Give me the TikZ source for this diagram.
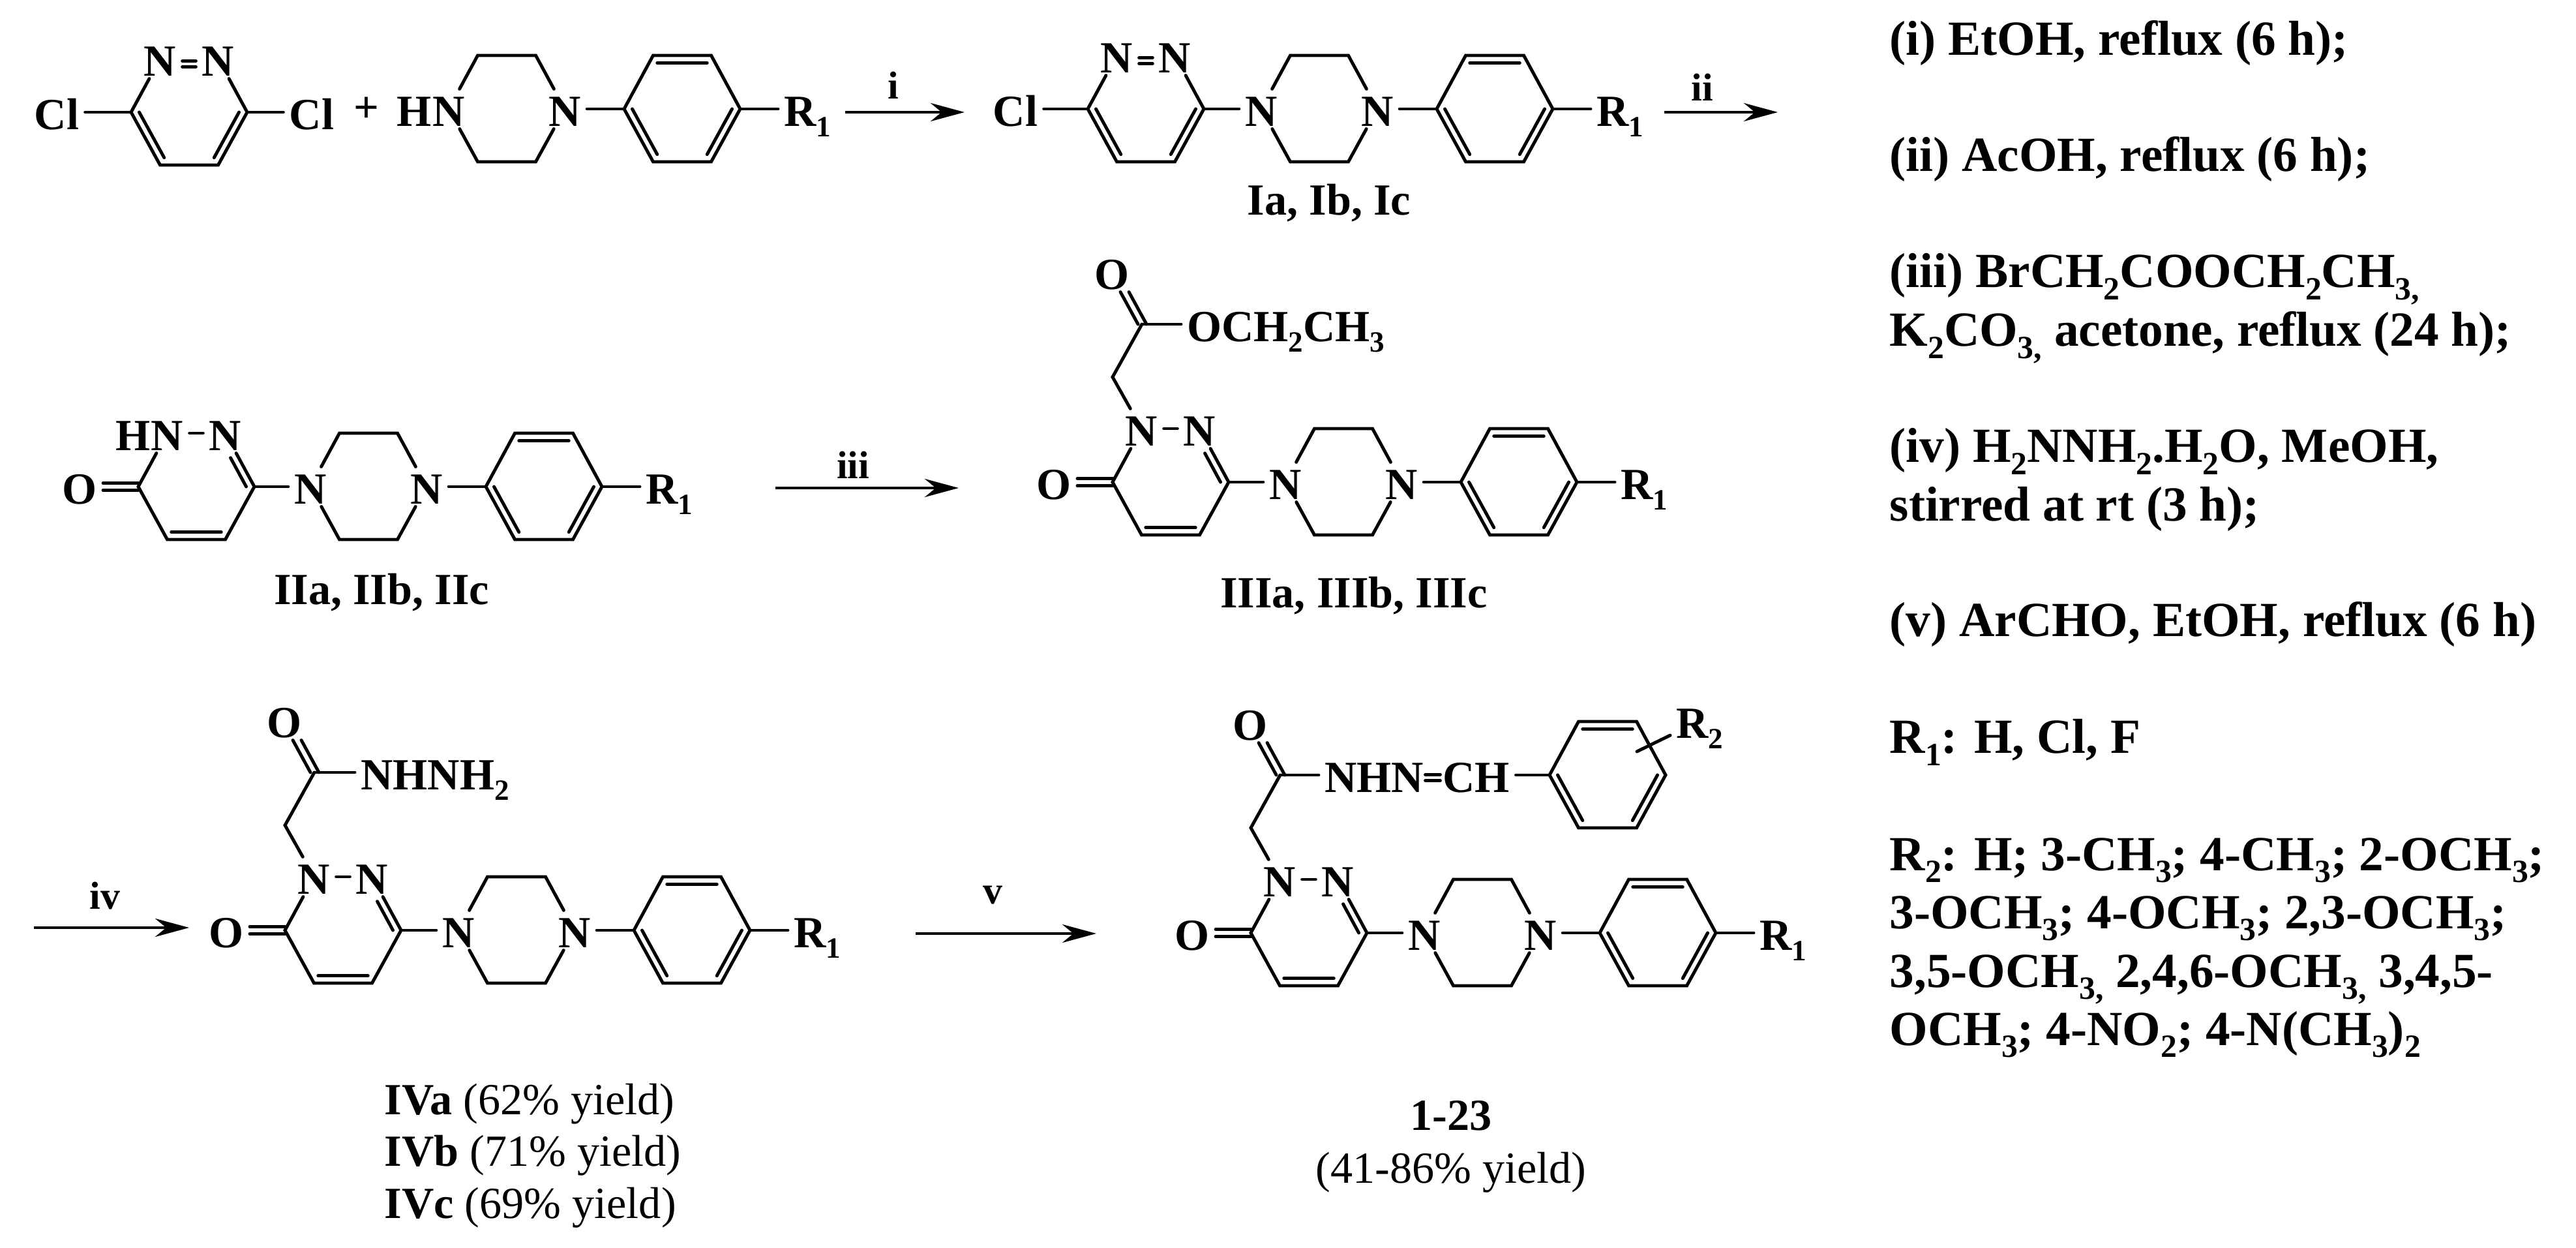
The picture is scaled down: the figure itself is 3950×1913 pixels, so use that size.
\documentclass[tikz,border=0pt]{standalone}
\usepackage{fontspec}
\setmainfont{Liberation Serif}
\usepackage{tikz}
\usetikzlibrary{positioning}
\usetikzlibrary{calc}
\usetikzlibrary{arrows.meta}
\tikzset{
    atom/.style={font=\fontsize{19.4}{22}\selectfont\bfseries, inner xsep=2.5pt, inner ysep=0pt, text height=15.9pt, text depth=1.1pt},
    lab/.style={font=\fontsize{19.4}{22}\selectfont, inner sep=0pt, anchor=base},
    rlab/.style={font=\fontsize{17}{20}\selectfont\bfseries, inner sep=0pt, anchor=base},
    note/.style={font=\fontsize{21.4}{25}\selectfont\bfseries, inner sep=0pt, anchor=base west},
    bond/.style={line width=1.4pt, line cap=round},
    rxn/.style={-{Stealth[length=5.2mm, width=2.8mm]}, line width=1.4pt}
}
\newcommand{\ssb}[1]{\raisebox{-.24em}{\scalebox{.66}{#1}}}
\newcommand{\hexring}[3]{
    \coordinate (#1C) at (#2+89,#3);
    \coordinate (#1L) at (#2,#3);
    \coordinate (#1TL) at (#2+44.5,#3-82);
    \coordinate (#1TR) at (#2+133.5,#3-82);
    \coordinate (#1R) at (#2+178,#3);
    \coordinate (#1BR) at (#2+133.5,#3+81);
    \coordinate (#1BL) at (#2+44.5,#3+81);
}
\newcommand{\innerbond}[4][]{\draw[bond,#1] ($(#2)!.14!(#4)$) -- ($(#3)!.14!(#4)$);}
\newcommand{\benzene}[1]{
    \draw[bond] (#1L) -- (#1TL) -- (#1TR) -- (#1R) -- (#1BR) -- (#1BL) -- cycle;
    \innerbond{#1TL}{#1TR}{#1C}
    \innerbond{#1L}{#1BL}{#1C}
    \innerbond{#1R}{#1BR}{#1C}
}
\newcommand{\piparyl}[3]{
    \hexring{#1_p}{#2}{#3}
    \node[atom] (#1_N) at (#2,#3) {N};
    \node[atom] (#1_M) at (#2+178,#3) {N};
    \draw[bond] (#1_N) -- (#1_pTL) -- (#1_pTR) -- (#1_M) -- (#1_pBR) -- (#1_pBL) -- (#1_N);
    \hexring{#1_a}{#2+269}{#3}
    \benzene{#1_a}
    \node[atom,anchor=west] (#1_R) at (#2+505,#3) {R\ssb{1}};
    \draw[bond] (#1_M) -- (#1_aL);
    \draw[bond] (#1_aR) -- (#1_R);
}
\newcommand{\pyridone}[3]{
    \hexring{#1}{#2}{#3}
    \node[atom] (#1_N) at (#1TL) {N};
    \node[atom] (#1_M) at (#1TR) {N};
    \node[atom] (#1_O) at (#2-90,#3) {O};
    \draw[bond] (#1_N) -- (#1L) -- (#1BL) -- (#1BR) -- (#1R) -- (#1_M);
    \draw[bond] (#1_N) -- (#1_M);
    \innerbond{#1BL}{#1BR}{#1C}
    \innerbond[shorten <=8.5pt]{#1TR}{#1R}{#1C}
    \draw[bond] ([yshift=1.6pt]#1_O.east) -- ([yshift=1.6pt]#1L);
    \draw[bond] ([yshift=-1.6pt]#1_O.east) -- ([yshift=-1.6pt]#1L);
}
\newcommand{\sidechain}[3]{
    \coordinate (#1_m) at (#2,#3-161);
    \coordinate (#1_c) at (#2+45,#3-242);
    \node[atom] (#1_t) at (#2-1,#3-322) {O};
    \draw[bond] (#1_N) -- (#1_m) -- (#1_c);
    \draw[bond] ([xshift=-1.7pt]#1_c) -- ([xshift=3.7pt]#1_t.south);
    \draw[bond] ([xshift=2pt]#1_c) -- ([xshift=7.4pt]#1_t.south);
}

\begin{document}
\begin{tikzpicture}[x=0.01cm,y=-0.01cm]
    \useasboundingbox (0,0) rectangle (3950,1913);

    \hexring{A}{201}{172}
    \node[atom] (A_N) at (ATL) {N};
    \node[atom] (A_M) at (ATR) {N};
    \node[atom] (A_CL) at (87,172) {Cl};
    \node[atom] (A_CR) at (478,172) {Cl};
    \draw[bond] (A_N) -- (AL) -- (ABL) -- (ABR) -- (AR) -- (A_M);
    \draw[bond] ([yshift=-1pt]A_N.east) -- ([yshift=-1pt]A_M.west);
    \draw[bond] ([yshift=-3.5pt]A_N.east) -- ([yshift=-3.5pt]A_M.west);
    \innerbond{AL}{ABL}{AC}
    \innerbond{AR}{ABR}{AC}
    \draw[bond] (A_CL) -- (AL);
    \draw[bond] (AR) -- (A_CR);
    \node[lab] (plus) at (562,188) {\textbf{+}};

    \piparyl{B}{688}{167}
    \node[atom,left=-5pt of B_N] (B_H) {H};

    \coordinate (r1s) at (1296,172);
    \coordinate (r1e) at (1479,172);
    \draw[rxn] (r1s) -- (r1e);
    \node[rlab] (r1) at (1370,152) {i};

    \hexring{I}{1668}{167}
    \node[atom] (I_N) at (ITL) {N};
    \node[atom] (I_M) at (ITR) {N};
    \node[atom] (I_Cl) at (1557,167) {Cl};
    \draw[bond] (I_N) -- (IL) -- (IBL) -- (IBR) -- (IR) -- (I_M);
    \draw[bond] ([yshift=-1pt]I_N.east) -- ([yshift=-1pt]I_M.west);
    \draw[bond] ([yshift=-3.5pt]I_N.east) -- ([yshift=-3.5pt]I_M.west);
    \innerbond{IL}{IBL}{IC}
    \innerbond{IR}{IBR}{IC}
    \draw[bond] (I_Cl) -- (IL);
    \piparyl{Iu}{1934}{167}
    \draw[bond] (IR) -- (Iu_N);
    \node[lab] (Ilabel) at (2038,330) {\textbf{Ia, Ib, Ic}};

    \coordinate (r2s) at (2552,172);
    \coordinate (r2e) at (2726,172);
    \draw[rxn] (r2s) -- (r2e);
    \node[rlab] (r2) at (2610,155) {ii};

    \pyridone{II}{212}{746}
    \node[atom,left=-5pt of II_N] (II_H) {H};
    \piparyl{IIu}{476}{746}
    \draw[bond] (IIR) -- (IIu_N);
    \node[lab] (IIlabel) at (585,927) {\textbf{IIa, IIb, IIc}};

    \coordinate (r3s) at (1189,748);
    \coordinate (r3e) at (1470,748);
    \draw[rxn] (r3s) -- (r3e);
    \node[rlab] (r3) at (1308,734) {iii};

    \pyridone{III}{1706}{739}
    \sidechain{III}{1706}{739}
    \node[atom,anchor=west] (III_e) at (1811,497) {OCH\ssb{2}CH\ssb{3}};
    \draw[bond] (III_c) -- (III_e);
    \piparyl{IIIu}{1971}{739}
    \draw[bond] (IIIR) -- (IIIu_N);
    \node[lab] (IIIlabel) at (2076,932) {\textbf{IIIa, IIIb, IIIc}};

    \coordinate (r4s) at (52,1422);
    \coordinate (r4e) at (290,1422);
    \draw[rxn] (r4s) -- (r4e);
    \node[rlab] (r4) at (161,1393) {iv};

    \pyridone{IV}{437}{1426}
    \sidechain{IV}{437}{1426}
    \node[atom,anchor=west] (IV_e) at (482+62,1184) {NHNH\ssb{2}};
    \draw[bond] (IV_c) -- (IV_e);
    \piparyl{IVu}{703}{1426}
    \draw[bond] (IVR) -- (IVu_N);
    \node[lab,anchor=base west] (IVa) at (589,1708) {\textbf{IVa} (62\% yield)};
    \node[lab,anchor=base west] (IVb) at (589,1787) {\textbf{IVb} (71\% yield)};
    \node[lab,anchor=base west] (IVc) at (589,1867) {\textbf{IVc} (69\% yield)};

    \coordinate (r5s) at (1404,1431);
    \coordinate (r5e) at (1681,1431);
    \draw[rxn] (r5s) -- (r5e);
    \node[rlab] (r5) at (1522,1386) {v};

    \pyridone{V}{1918}{1430}
    \sidechain{V}{1918}{1430}
    \node[atom,anchor=west] (V_e) at (2022,1188) {NHN};
    \node[atom,right=3pt of V_e] (V_f) {CH};
    \draw[bond] (V_c) -- (V_e);
    \draw[bond] ([xshift=-2pt,yshift=.2pt]V_e.east) -- ([xshift=1.5pt,yshift=.2pt]V_f.west);
    \draw[bond] ([xshift=-2pt,yshift=-2.4pt]V_e.east) -- ([xshift=1.5pt,yshift=-2.4pt]V_f.west);
    \hexring{Va}{2376}{1188}
    \benzene{Va}
    \draw[bond] (V_f) -- (VaL);
    \coordinate (V_s) at (2510,1152);
    \node[atom,anchor=west] (V_R) at (2561,1105) {R\ssb{2}};
    \draw[bond] (V_s) -- (V_R);
    \piparyl{Vu}{2184}{1430}
    \draw[bond] (VR) -- (Vu_N);
    \node[lab] (Vlabel) at (2225,1732) {\textbf{1-23}};
    \node[lab] (Vyield) at (2225,1813) {(41-86\% yield)};

    \node[note] (c1) at (2897,85) {(i) EtOH, reflux (6 h);};
    \node[note] (c2) at (2897,263) {(ii) AcOH, reflux (6 h);};
    \node[note] (c3) at (2897,441) {(iii) BrCH\ssb{2}COOCH\ssb{2}CH\ssb{3,}};
    \node[note] (c3b) at (2897,531) {K\ssb{2}CO\ssb{3,} acetone, reflux (24 h);};
    \node[note] (c4) at (2897,709) {(iv) H\ssb{2}NNH\ssb{2}.H\ssb{2}O, MeOH,};
    \node[note] (c4b) at (2897,799) {stirred at rt (3 h);};
    \node[note] (c5) at (2897,976) {(v) ArCHO, EtOH, reflux (6 h)};
    \node[note] (R_1) at (2897,1155) {R\ssb{1}: H, Cl, F};
    \node[note] (R_2) at (2897,1334) {R\ssb{2}: H; 3-CH\ssb{3}; 4-CH\ssb{3}; 2-OCH\ssb{3};};
    \node[note] (R_2b) at (2897,1423) {3-OCH\ssb{3}; 4-OCH\ssb{3}; 2,3-OCH\ssb{3};};
    \node[note] (R_2c) at (2897,1513) {3,5-OCH\ssb{3,} 2,4,6-OCH\ssb{3,} 3,4,5-};
    \node[note] (R_2d) at (2897,1602) {OCH\ssb{3}; 4-NO\ssb{2}; 4-N(CH\ssb{3})\ssb{2}};
\end{tikzpicture}
\end{document}
